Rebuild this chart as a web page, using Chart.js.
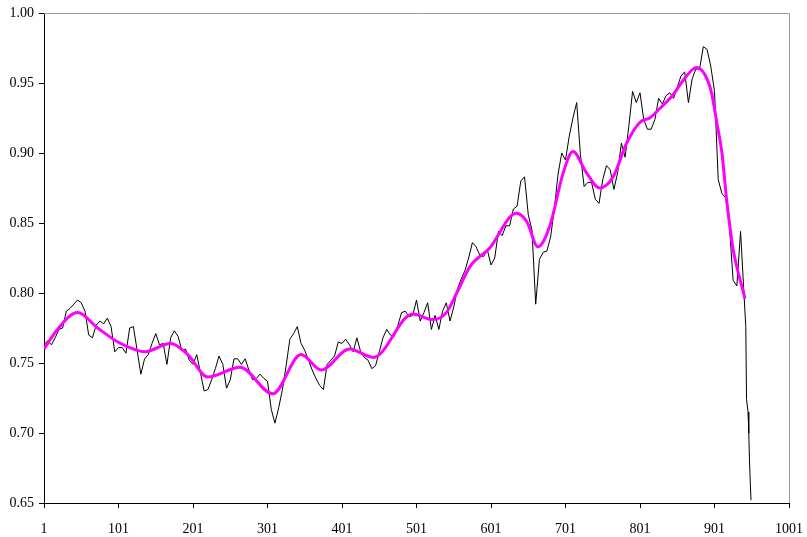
<!DOCTYPE html>
<html>
<head>
<meta charset="utf-8">
<title>Series</title>
<script src="https://cdn.jsdelivr.net/npm/chart.js@4/dist/chart.umd.min.js"></script>
<style>
    html, body { margin: 0; padding: 0; background: #fff; }
    #chart { display: block; }
</style>
</head>
<body>
<canvas id="chart" width="807" height="537"></canvas>
<script>
// raw series, one value every 5 observations starting at 1
const rawStart = 1;
const rawStep = 5;
const rawValues = [
    0.763, 0.766, 0.763, 0.768, 0.774, 0.775, 0.787, 0.789, 0.792, 0.795,
    0.793, 0.787, 0.770, 0.768, 0.777, 0.780, 0.778, 0.782, 0.776, 0.758,
    0.761, 0.761, 0.757, 0.775, 0.776, 0.759, 0.742, 0.753, 0.756, 0.764,
    0.771, 0.763, 0.764, 0.749, 0.768, 0.773, 0.769, 0.759, 0.760, 0.752,
    0.749, 0.756, 0.743, 0.730, 0.731, 0.738, 0.746, 0.755, 0.749, 0.732,
    0.738, 0.753, 0.753, 0.749, 0.753, 0.745, 0.738, 0.739, 0.742, 0.739,
    0.737, 0.717, 0.707, 0.718, 0.731, 0.748, 0.767, 0.771, 0.776, 0.764,
    0.759, 0.752, 0.745, 0.739, 0.734, 0.731, 0.749, 0.752, 0.755, 0.765,
    0.764, 0.767, 0.763, 0.758, 0.768, 0.758, 0.754, 0.752, 0.746, 0.748,
    0.758, 0.768, 0.774, 0.770, 0.769, 0.777, 0.786, 0.787, 0.783, 0.784,
    0.795, 0.780, 0.786, 0.793, 0.774, 0.784, 0.774, 0.787, 0.793, 0.780,
    0.790, 0.803, 0.810, 0.816, 0.825, 0.836, 0.833, 0.827, 0.826, 0.831,
    0.820, 0.825, 0.844, 0.841, 0.848, 0.848, 0.860, 0.862, 0.880, 0.883,
    0.856, 0.845, 0.792, 0.824, 0.829, 0.830, 0.840, 0.860, 0.885, 0.900,
    0.895, 0.912, 0.925, 0.936, 0.899, 0.876, 0.879, 0.879, 0.867, 0.864,
    0.881, 0.891, 0.888, 0.874, 0.886, 0.907, 0.897, 0.919, 0.944, 0.936,
    0.943, 0.924, 0.917, 0.917, 0.924, 0.939, 0.935, 0.941, 0.943, 0.939,
    0.947, 0.955, 0.958, 0.936, 0.953, 0.960, 0.960, 0.976, 0.974, 0.962,
    0.944, 0.881, 0.871, 0.868, 0.848, 0.809, 0.805, 0.844, 0.795
];
// last few observations, where the series falls away
const tailIdx = [943, 944, 946, 947, 948, 949, 950];
const tailValues = [0.776, 0.724, 0.715, 0.700, 0.680, 0.665, 0.652];

// smoothed trend
const trendIdx = [
    1, 19, 46, 73, 100, 126, 136, 171, 194, 221,
    264, 308, 346, 373, 411, 443, 496, 523, 541, 555,
    573, 599, 635, 649, 664, 680, 698, 711, 729, 747,
    765, 783, 801, 814, 828, 846, 859, 877, 888, 897,
    904, 911, 917, 922, 926, 942
];
const trendValues = [
    0.760, 0.774, 0.786, 0.775, 0.765, 0.759, 0.758, 0.764, 0.756, 0.740,
    0.747, 0.728, 0.756, 0.745, 0.760, 0.754, 0.785, 0.781, 0.786, 0.800,
    0.819, 0.832, 0.857, 0.851, 0.833, 0.848, 0.886, 0.901, 0.886, 0.875,
    0.883, 0.907, 0.922, 0.925, 0.932, 0.942, 0.952, 0.961, 0.956, 0.943,
    0.922, 0.900, 0.868, 0.846, 0.831, 0.796
];

const xTicks = [1, 101, 201, 301, 401, 501, 601, 701, 801, 901, 1001];
const yTicks = [0.65, 0.70, 0.75, 0.80, 0.85, 0.90, 0.95, 1.00];

const rawPoints = rawValues.map((v, i) => ({ x: rawStart + i * rawStep, y: v }))
    .concat(tailIdx.map((x, i) => ({ x: x, y: tailValues[i] })));
const trendPoints = trendIdx.map((x, i) => ({ x: x, y: trendValues[i] }));

// light grey frame on the top and right of the plot
const frame = {
    id: 'frame',
    beforeDatasetsDraw(chart) {
        const a = chart.chartArea;
        const ctx = chart.ctx;
        ctx.save();
        ctx.strokeStyle = '#9a9a9a';
        ctx.lineWidth = 1;
        ctx.beginPath();
        ctx.moveTo(a.left, a.top + 0.5);
        ctx.lineTo(a.right + 0.5, a.top + 0.5);
        ctx.lineTo(a.right + 0.5, a.bottom);
        ctx.stroke();
        ctx.restore();
    }
};

const tickFont = { family: '"Liberation Serif", "Times New Roman", serif', size: 14 };

new Chart(document.getElementById('chart'), {
    type: 'line',
    data: {
        datasets: [
            {
                data: trendPoints,
                borderColor: '#ff00ff',
                borderWidth: 3,
                pointRadius: 0,
                cubicInterpolationMode: 'monotone',
                order: 0
            },
            {
                data: rawPoints,
                borderColor: '#000000',
                borderWidth: 1,
                pointRadius: 0,
                tension: 0,
                order: 1
            }
        ]
    },
    options: {
        responsive: false,
        animation: false,
        devicePixelRatio: 1,
        layout: { padding: { left: 0, right: 18, top: 13, bottom: 0 } },
        plugins: {
            legend: { display: false },
            tooltip: { enabled: false }
        },
        scales: {
            x: {
                type: 'linear',
                min: 1,
                max: 1001,
                afterBuildTicks: s => { s.ticks = xTicks.map(v => ({ value: v })); },
                afterFit: s => {
                    s.height = 34;
                    s.paddingLeft = 0;
                    s.paddingRight = 0;
                },
                grid: { drawOnChartArea: false, tickLength: 5, color: '#000' },
                border: { color: '#000', width: 1 },
                ticks: {
                    color: '#000',
                    font: tickFont,
                    padding: 13,
                    maxRotation: 0,
                    autoSkip: false,
                    callback: v => String(v)
                }
            },
            y: {
                min: 0.65,
                max: 1.00,
                afterBuildTicks: s => { s.ticks = yTicks.map(v => ({ value: v })); },
                afterFit: s => {
                    s.width = 44;
                    s.paddingTop = 0;
                    s.paddingBottom = 0;
                },
                grid: { drawOnChartArea: false, tickLength: 5, color: '#000' },
                border: { color: '#000', width: 1 },
                ticks: {
                    color: '#000',
                    font: tickFont,
                    padding: 5,
                    callback: v => v.toFixed(2)
                }
            }
        }
    },
    plugins: [frame]
});
</script>
</body>
</html>
